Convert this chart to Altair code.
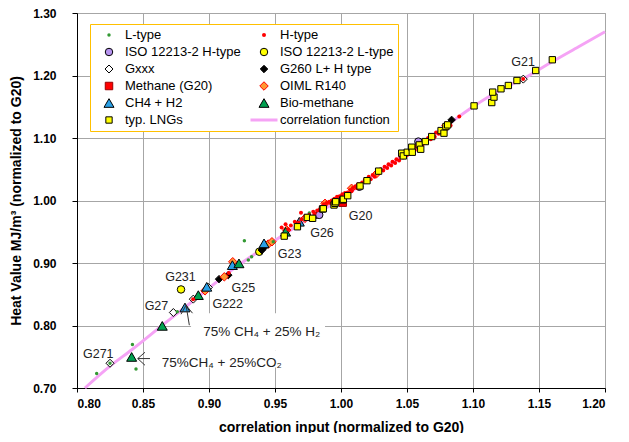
import altair as alt
import pandas as pd

# ---------------- data ----------------
# legend order (Vega fills legend columns top-to-bottom, so the list is
# column 1 first, then column 2)
series_order = ["L-type", "ISO 12213-2 H-type", "Gxxx", "Methane (G20)", "CH4 + H2", "typ. LNGs",
                "H-type", "ISO 12213-2 L-type", "G260 L+ H type", "OIML R140", "Bio-methane",
                "correlation function"]

gxxx_x = [0.825, 0.873, 0.8881, 0.8995, 0.9816, 1.1381]
gxxx_y = [0.7396, 0.8208, 0.8422, 0.8609, 0.9768, 1.1942]

isoh_x = [1.0139, 1.0586, 0.9835]
isoh_y = [1.0220, 1.0943, 0.9770]

isol_x = [0.8788, 0.9381]
isol_y = [0.8577, 0.9180]

methane_x = [1.0013]
methane_y = [0.9965]

g260_x = [0.9076, 0.9146, 0.9400, 0.9411, 1.0838]
g260_y = [0.8742, 0.8806, 0.9207, 0.9234, 1.1290]

oiml_x = [0.8970, 0.9116, 0.9180, 0.9449, 0.9477, 0.9589, 0.9727, 0.9879, 1.0080, 1.0270, 1.0795]
oiml_y = [0.8555, 0.8779, 0.9020, 0.9303, 0.9340, 0.9527, 0.9715, 0.9955, 1.0195, 1.0430, 1.1200]

ch4h2_x = [0.8818, 0.8983, 0.9177, 0.9417, 0.9684]
ch4h2_y = [0.8288, 0.8619, 0.8966, 0.9314, 0.9660]

bio_x = [0.8414, 0.8646, 0.8919, 0.9227, 0.9580]
bio_y = [0.7497, 0.7994, 0.8486, 0.8994, 0.9500]

ltype_x = [0.8149, 0.8250, 0.8420, 0.8447, 0.8760, 0.9268, 0.9298, 0.9323, 0.9487, 0.9760]
ltype_y = [0.7231, 0.7396, 0.7696, 0.7305, 0.8220, 0.9356, 0.9047, 0.9100, 0.9340, 0.9800]

htype_x = [0.888, 0.9150, 0.955, 0.958, 0.962, 0.965, 0.9697, 0.970, 0.973, 0.976, 0.979,
           0.982, 0.985, 0.987, 0.989, 0.991, 0.993, 0.995, 0.997, 0.999, 1.001, 1.003,
           1.005, 1.007, 1.009, 1.011, 1.013, 1.016, 1.018, 1.021, 1.024, 1.027, 1.030,
           1.033, 1.036, 1.039, 1.042, 1.045, 1.048, 1.051, 1.054, 1.057, 1.060, 1.063,
           1.066, 1.069, 1.072, 1.075, 1.078, 1.081, 1.0896, 1.138,
           0.9600, 0.9680, 0.9750, 0.9800, 0.9840, 0.9880, 0.9920, 0.9960, 1.0000, 1.0040,
           1.0080, 1.0120, 1.0150, 1.0195, 1.0225, 1.0255, 1.0290, 1.0320, 1.0350, 1.0380,
           1.0410, 1.0440, 1.0470, 1.0500, 1.0530, 1.0560, 1.0590, 1.0620, 1.0650, 1.0680,
           1.0710, 1.0740, 1.0770, 1.0800, 1.0830]
htype_y = [0.842, 0.8840, 0.957, 0.962, 0.960, 0.966, 0.9805, 0.970, 0.975, 0.977, 0.982,
           0.984, 0.990, 0.994, 0.996, 0.998, 1.000, 1.003, 1.006, 1.007, 1.010, 1.012,
           1.013, 1.017, 1.020, 1.023, 1.026, 1.029, 1.033, 1.038, 1.041, 1.046, 1.050,
           1.054, 1.058, 1.062, 1.066, 1.070, 1.075, 1.079, 1.083, 1.087, 1.092, 1.096,
           1.100, 1.104, 1.109, 1.113, 1.118, 1.122, 1.1343, 1.1945,
           0.9540, 0.9650, 0.9720, 0.9790, 0.9860, 0.9900, 0.9960, 1.0010, 1.0050, 1.0090,
           1.0150, 1.0200, 1.0240, 1.0300, 1.0340, 1.0380, 1.0440, 1.0480, 1.0520, 1.0560,
           1.0600, 1.0640, 1.0690, 1.0730, 1.0770, 1.0810, 1.0850, 1.0900, 1.0940, 1.0980,
           1.1020, 1.1070, 1.1110, 1.1150, 1.1200]

lng_x = [0.9570, 0.9670, 0.9745, 0.9785, 0.9860, 0.9866, 0.9947, 0.9955, 0.9960, 1.0013,
         1.0018, 1.0051, 1.0144, 1.0197, 1.0285, 1.0460, 1.0472, 1.0502, 1.0536, 1.0540,
         1.0593, 1.0604, 1.0639, 1.0687, 1.0758, 1.0780, 1.0795, 1.0808, 1.1008, 1.1142,
         1.1159, 1.1149, 1.1212, 1.1268, 1.1333, 1.1475, 1.1601]
lng_y = [0.9430, 0.9580, 0.9730, 0.9715, 0.9864, 0.9868, 0.9928, 0.9955, 0.9980, 1.0008,
         1.0020, 1.0077, 1.0232, 1.0317, 1.0470, 1.0757, 1.0713, 1.0772, 1.0853, 1.0772,
         1.0890, 1.0820, 1.0943, 1.1023, 1.1119, 1.1077, 1.1183, 1.1210, 1.1514, 1.1567,
         1.1654, 1.1734, 1.1787, 1.1840, 1.1920, 1.2080, 1.2252]

corr_x = [0.806, 0.825, 0.842, 0.865, 0.880, 0.900, 0.920, 0.940, 0.960, 0.980, 1.000,
          1.020, 1.040, 1.060, 1.080, 1.100, 1.120, 1.140, 1.160, 1.180, 1.200]
corr_y = [0.700, 0.735, 0.762, 0.801, 0.826, 0.860, 0.893, 0.922, 0.950, 0.977, 1.003,
          1.033, 1.062, 1.090, 1.120, 1.150, 1.176, 1.197, 1.222, 1.246, 1.270]

label_text = ["G21", "G20", "G26", "G23", "G25", "G222", "G231", "G27", "G271"]
label_x = [1.1379, 1.0148, 0.9856, 0.9610, 0.9260, 0.9142, 0.8784, 0.8602, 0.8161]
label_y = [1.2220, 0.9750, 0.9474, 0.9138, 0.8593, 0.8337, 0.8779, 0.8309, 0.7540]

note_text = ["75% CH\u2084  + 25% H\u2082", "75%CH\u2084 + 25%CO\u2082"]
note_x = [0.8957, 0.8642]
note_y = [0.7889, 0.7400]

box_x1 = [0.8864, 0.8614]
box_x2 = [0.9879, 0.9523]
box_y1 = [0.8197, 0.7604]
box_y2 = [0.7604, 0.7327]

arrow_x1 = [0.8826, 0.8826, 0.8826, 0.8460, 0.8460, 0.8460]
arrow_y1 = [0.8325, 0.8325, 0.8325, 0.7471, 0.7471, 0.7471]
arrow_x2 = [0.8851, 0.8788, 0.8875, 0.8553, 0.8515, 0.8515]
arrow_y2 = [0.8005, 0.8181, 0.8197, 0.7471, 0.7572, 0.7364]

# ---------------- tables ----------------
groups = [
    ("Gxxx", gxxx_x, gxxx_y),
    ("ISO 12213-2 H-type", isoh_x, isoh_y),
    ("ISO 12213-2 L-type", isol_x, isol_y),
    ("Methane (G20)", methane_x, methane_y),
    ("G260 L+ H type", g260_x, g260_y),
    ("OIML R140", oiml_x, oiml_y),
    ("CH4 + H2", ch4h2_x, ch4h2_y),
    ("Bio-methane", bio_x, bio_y),
    ("L-type", ltype_x, ltype_y),
    ("H-type", htype_x, htype_y),
    ("typ. LNGs", lng_x, lng_y),
]
rows = []
for name, xs_, ys_ in groups:
    for a, b in zip(xs_, ys_):
        rows.append({"x": a, "y": b, "series": name})
pts = pd.DataFrame(rows)
pts["z"] = range(len(pts))

corr = pd.DataFrame({"x": corr_x, "y": corr_y})
labels = pd.DataFrame({"x": label_x, "y": label_y, "t": label_text})
notes = pd.DataFrame({"x": note_x, "y": note_y, "t": note_text})
boxes = pd.DataFrame({"x": box_x1, "x2": box_x2, "y": box_y1, "y2": box_y2})
arrows = pd.DataFrame({"x": arrow_x1, "y": arrow_y1, "x2": arrow_x2, "y2": arrow_y2})

FONT = "Liberation Sans"

# style per series
style = {
    "L-type":               ("circle",      "#339933", "#339933", 12,  0),
    "ISO 12213-2 H-type":   ("circle",      "#B794F0", "#000000", 56,  1),
    "Gxxx":                 ("diamond",     "#FFFFFF", "#000000", 64,  1),
    "Methane (G20)":        ("square",      "#FF0000", "#990000", 56,  1),
    "CH4 + H2":             ("triangle-up", "#2AA0E6", "#000000", 100, 1),
    "typ. LNGs":            ("square",      "#FFFF00", "#000000", 40,  1),
    "H-type":               ("circle",      "#FF0000", "#FF0000", 16,  0),
    "ISO 12213-2 L-type":   ("circle",      "#FFFF00", "#000000", 56,  1),
    "G260 L+ H type":       ("diamond",     "#000000", "#000000", 56,  1),
    "OIML R140":            ("diamond",     "#FF9933", "#FF0000", 72,  1),
    "Bio-methane":          ("triangle-up", "#00A050", "#000000", 100, 1),
    "correlation function": ("M-1,0H1",     "#F5A3F5", "#F5A3F5", 729, 3),
}
shape_range = [style[s][0] for s in series_order]
fill_range = [style[s][1] for s in series_order]
stroke_range = [style[s][2] for s in series_order]
size_range = [style[s][3] for s in series_order]
sw_range = [style[s][4] for s in series_order]

xs = alt.Scale(domain=[0.8, 1.2], nice=False, zero=False)
ys = alt.Scale(domain=[0.7, 1.3], nice=False, zero=False)

x_axis = alt.Axis(values=[0.80, 0.85, 0.90, 0.95, 1.00, 1.05, 1.10, 1.15, 1.20], format=".2f",
                  title="correlation input (normalized to G20)", tickSize=4, labelPadding=6,
                  titlePadding=11)
y_axis = alt.Axis(values=[0.70, 0.80, 0.90, 1.00, 1.10, 1.20, 1.30], format=".2f",
                  title="Heat Value MJ/m\u00b3 (normalized to G20)", tickSize=5, labelPadding=16,
                  titlePadding=9)

legend = alt.Legend(title=None, orient="none", legendX=13, legendY=11, columns=2,
                    strokeColor="#FFC000", fillColor="#FFFFFF", padding=4,
                    labelFont=FONT, labelFontSize=13, labelColor="#000000",
                    columnPadding=8, rowPadding=3, labelOffset=1, symbolLimit=20,
                    labelLimit=300, clipHeight=14)

enc_common = dict(
    shape=alt.Shape("series:N", scale=alt.Scale(domain=series_order, range=shape_range), legend=legend),
    fill=alt.Fill("series:N", scale=alt.Scale(domain=series_order, range=fill_range), legend=legend),
    stroke=alt.Stroke("series:N", scale=alt.Scale(domain=series_order, range=stroke_range), legend=legend),
    size=alt.Size("series:N", scale=alt.Scale(type="ordinal", domain=series_order, range=size_range), legend=legend),
    strokeWidth=alt.StrokeWidth("series:N", scale=alt.Scale(type="ordinal", domain=series_order, range=sw_range), legend=legend),
)

box_layer = alt.Chart(boxes).mark_rect(color="white").encode(
    x=alt.X("x:Q", scale=xs, axis=x_axis), x2="x2:Q",
    y=alt.Y("y:Q", scale=ys, axis=y_axis), y2="y2:Q")

line_layer = alt.Chart(corr).mark_line(color="#F5A3F5", strokeWidth=3, interpolate="monotone").encode(
    x=alt.X("x:Q", scale=xs), y=alt.Y("y:Q", scale=ys))

point_layer = alt.Chart(pts).mark_point(opacity=1, fillOpacity=1, strokeOpacity=1).encode(
    x=alt.X("x:Q", scale=xs), y=alt.Y("y:Q", scale=ys),
    order=alt.Order("z:Q"),
    **enc_common)

label_layer = alt.Chart(labels).mark_text(font=FONT, fontSize=12.5, color="#222222").encode(
    x=alt.X("x:Q", scale=xs), y=alt.Y("y:Q", scale=ys), text="t:N")

note_layer = alt.Chart(notes).mark_text(font=FONT, fontSize=13.5, color="#222222", align="left").encode(
    x=alt.X("x:Q", scale=xs), y=alt.Y("y:Q", scale=ys), text="t:N")

arrow_layer = alt.Chart(arrows).mark_rule(color="#333333", strokeWidth=1).encode(
    x=alt.X("x:Q", scale=xs), y=alt.Y("y:Q", scale=ys), x2="x2:Q", y2="y2:Q")

chart = alt.layer(box_layer, line_layer, point_layer, label_layer, note_layer, arrow_layer).properties(
    width=528, height=375,
    autosize=alt.AutoSizeParams(type="none"),
    padding={"left": 69, "top": 5, "right": 12, "bottom": 45},
    background="white",
).configure_view(stroke="#A0A0A0", strokeWidth=1).configure_axis(
    labelFont=FONT, labelFontSize=12, labelFontWeight="bold", labelColor="#000000",
    titleFont=FONT, titleFontSize=14, titleFontWeight="bold", titleColor="#000000",
    gridColor="#A6A6A6", gridWidth=1, domainColor="#000000", tickColor="#000000",
    gridOpacity=1,
).configure_legend(labelFont=FONT, labelFontSize=13, labelColor="#000000", labelLimit=300)

chart.save("out.html", embed_options={"renderer": "svg", "actions": False})
